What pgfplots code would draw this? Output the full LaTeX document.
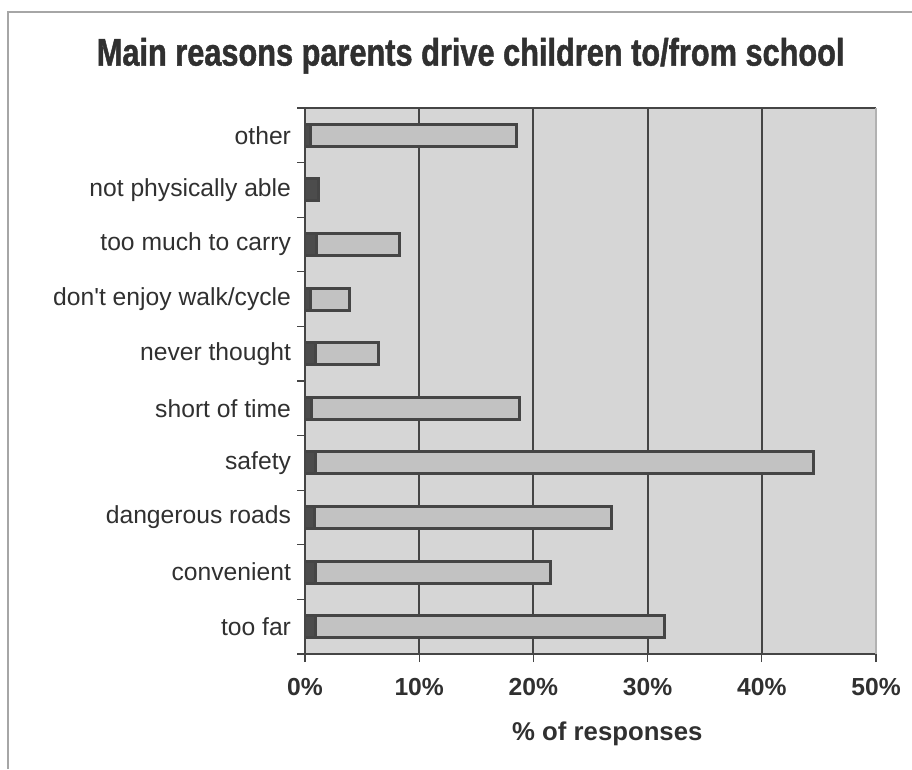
\documentclass[border=0pt]{standalone}
\usepackage{pgfplots}
\pgfplotsset{compat=1.18}
\usepackage{fontspec}
\setmainfont{Liberation Sans}
\newfontfamily\titlefont[FakeStretch=0.80,FakeBold=1.2]{Liberation Sans}

\definecolor{plotbg}{HTML}{D6D6D6}
\definecolor{barfill}{HTML}{C2C2C2}
\definecolor{barline}{HTML}{454545}
\definecolor{bardark}{HTML}{4C4C4C}
\definecolor{txt}{HTML}{303030}

\begin{document}
\begin{tikzpicture}[x=1pt,y=1pt]
\useasboundingbox (0,0) rectangle (684,576.75);
% scanned page frame
\draw[gray!70,line width=0.8pt] (6,0) -- (6,567.75) -- (684,567.75);

\node[font=\titlefont\bfseries\fontsize{28.8}{32}\selectfont,text=txt] at (353,535) {Main reasons parents drive children to/from school};

\begin{axis}[
    at={(228.75pt,86.25pt)}, anchor=south west,
    scale only axis, width=428.25pt, height=409.5pt,
    xbar stacked, bar width=16.5pt,
    xmin=0, xmax=50, ymin=-0.5, ymax=9.5,
    axis background/.style={fill=plotbg},
    axis line style={barline,line width=1.2pt},
    axis x line*=bottom, axis y line*=left,
    xtick={0,10,...,50},
    xticklabel={\pgfmathprintnumber{\tick}\%},
    xticklabel style={font=\bfseries\fontsize{18.5}{20}\selectfont,text=txt,yshift=-9pt},
    /pgf/number format/assume math mode=true,
    xmajorgrids, grid style={barline,line width=1.4pt},
    ytick={0,...,9},
    yticklabels={too far,convenient,dangerous roads,safety,short of time,never thought,don\textquotesingle t enjoy walk/cycle,too much to carry,not physically able,other},
    yticklabel style={font=\fontsize{18.5}{21}\selectfont,text=txt,xshift=-1pt},
    major y tick style={draw=none},
    minor ytick={-0.5,0.5,...,9.5},
    minor y tick style={barline,line width=0.8pt},
    minor tick length=6pt,
    major x tick style={barline,line width=0.8pt},
    major tick length=6pt,
    tick align=outside,
    clip=false,
]
\addplot[fill=bardark,draw=barline,line width=2.2pt] coordinates {
    (0.9,0) (0.9,1) (0.8,2) (0.9,3) (0.6,4) (0.9,5) (0.5,6) (1.0,7) (1.15,8) (0.5,9)
};
\addplot[fill=barfill,draw=barline,line width=2.2pt] coordinates {
    (30.6,0) (20.6,1) (26.0,2) (43.6,3) (18.2,4) (5.5,5) (3.4,6) (7.3,7) (0,8) (18.0,9)
};
\end{axis}
% top border of plot area and right edge
\draw[barline,line width=1.2pt] (228.75,495.75) -- (657,495.75);
\draw[gray!60,line width=0.8pt] (657,86.25) -- (657,495.75);

\node[font=\bfseries\fontsize{19.3}{22}\selectfont,text=txt] at (455.5,26.5) {\% of responses};
\end{tikzpicture}
\end{document}
